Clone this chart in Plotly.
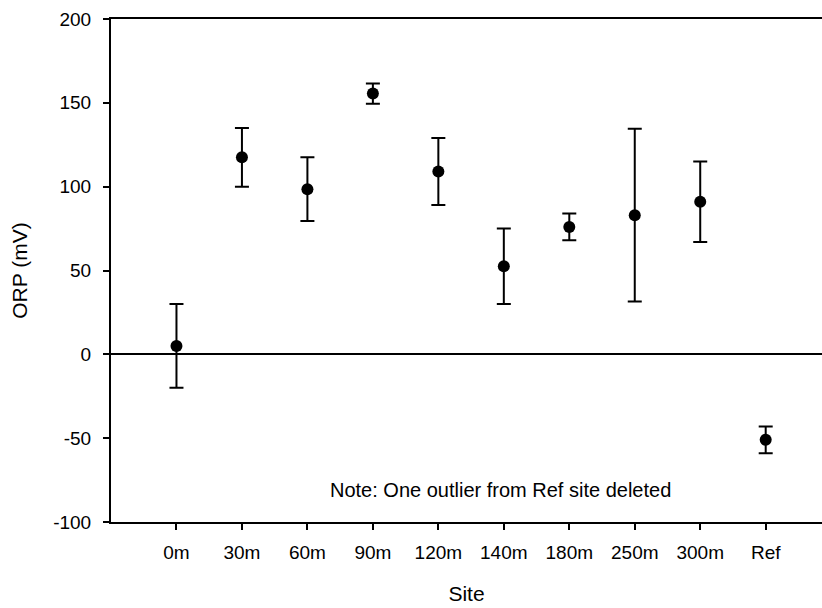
import plotly.graph_objects as go

sites = ["0m", "30m", "60m", "90m", "120m", "140m", "180m", "250m", "300m", "Ref"]
orp_mean = [5, 117.5, 98.5, 155.5, 109, 52.5, 76, 83, 91, -51]
orp_err = [25, 17.5, 19, 6, 20, 22.5, 8, 51.5, 24, 8]
y_ticks = [-100, -50, 0, 50, 100, 150, 200]
y_tick_text = ["-100", "-50", "0", "50", "100", "150", "200"]
note_text = "Note: One outlier from Ref site deleted"

xpos = list(range(len(sites)))

FAM = "Liberation Sans, Arial"

fig = go.Figure()
fig.add_trace(go.Scatter(
    x=xpos, y=orp_mean, mode="markers",
    marker=dict(color="black", size=12, symbol="circle"),
    error_y=dict(type="data", array=orp_err, visible=True,
                 color="black", thickness=2, width=7),
    showlegend=False,
))

fig.add_annotation(x=4.95, y=-81, text=note_text, showarrow=False,
                   font=dict(family=FAM, size=20, color="black"),
                   xanchor="center", yanchor="middle")

font = dict(family=FAM, size=19, color="black")

fig.update_layout(
    width=822, height=608,
    margin=dict(l=111, r=0, t=19, b=86, autoexpand=False),
    plot_bgcolor="white", paper_bgcolor="white",
    font=font,
    xaxis=dict(
        range=[-1, 9.86], tickvals=xpos, ticktext=sites,
        showline=True, linecolor="black", linewidth=2, mirror=True,
        ticks="outside", ticklen=6, tickwidth=2, tickcolor="black",
        showgrid=False, zeroline=False, ticklabelstandoff=6,
        tickfont=font,
        title=dict(text="Site", font=dict(family=FAM, size=21, color="black"), standoff=25),
    ),
    yaxis=dict(
        range=[-100, 200], tickvals=y_ticks, ticktext=y_tick_text,
        showline=True, linecolor="black", linewidth=2,
        ticks="outside", ticklen=6, tickwidth=2, tickcolor="black",
        showgrid=False, zeroline=True, zerolinecolor="black", zerolinewidth=1.5,
        ticklabelstandoff=8,
        tickfont=font,
        title=dict(text="ORP (mV)", font=dict(family=FAM, size=21, color="black"), standoff=20),
    ),
)

fig.write_html("out.html")
